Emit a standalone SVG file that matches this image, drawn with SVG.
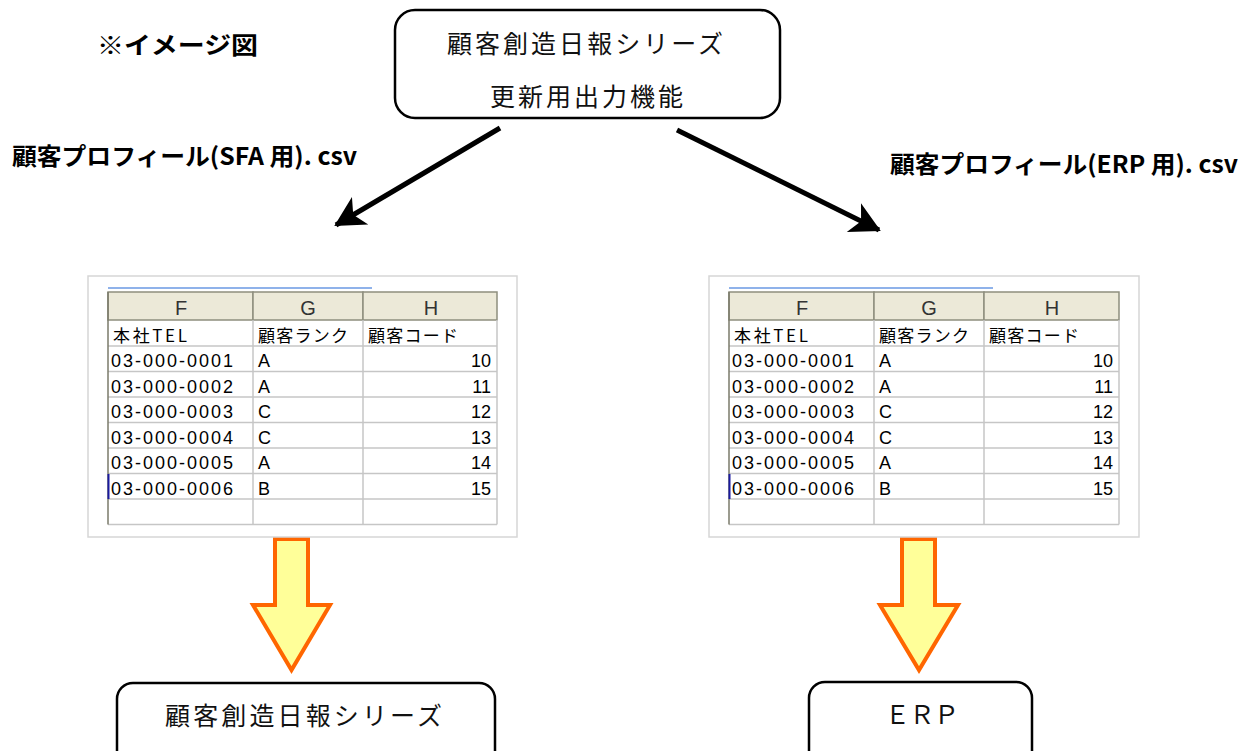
<svg xmlns="http://www.w3.org/2000/svg" width="1241" height="751" viewBox="0 0 1241 751">
<style>
.box{fill:#fff;stroke:#000;stroke-width:2.5}
.lbl{font-family:"Noto Sans CJK JP","Liberation Sans",sans-serif;font-size:25px;fill:#111}
.bold{font-family:"Noto Sans CJK JP","Liberation Sans",sans-serif;font-weight:bold;fill:#000}
.conn{stroke:#000;stroke-width:5;fill:none}
.frame{fill:#fff;stroke:#d6d6d6;stroke-width:1.5}
.hdr{fill:#ece9d8;stroke:#8e8e7e;stroke-width:1.5}
.grid{stroke:#c6c6c6;stroke-width:1.5;fill:none}
.hl{font-family:"Liberation Sans",sans-serif;font-size:20px;fill:#333;text-anchor:middle}
.cell{font-family:"Liberation Sans","Noto Sans CJK JP",sans-serif;font-size:18px;fill:#000}
.jp{font-family:"Noto Sans CJK JP","Liberation Sans",sans-serif;font-size:17px;fill:#000}
.num{text-anchor:end}
.big{fill:#ffff99;stroke:#ff6600;stroke-width:4;stroke-linejoin:miter}
</style>
<defs>
<marker id="ah" markerUnits="userSpaceOnUse" markerWidth="40" markerHeight="40" viewBox="-32 -20 40 40" refX="0" refY="0" orient="auto">
<path d="M2,0 L-28,-16 L-20,0 L-28,16 Z" fill="#000"/>
</marker>
</defs>
<rect width="1241" height="751" fill="#fff"/>

<g id="title">
<text class="bold" x="97" y="54" font-size="24" textLength="161" lengthAdjust="spacingAndGlyphs">※イメージ図</text>
</g>

<g id="top-node">
<rect class="box" x="395" y="10" width="385" height="108" rx="20"/>
<text class="lbl" x="447" y="53" textLength="276">顧客創造日報シリーズ</text>
<text class="lbl" x="490" y="106" textLength="193">更新用出力機能</text>
</g>

<g id="label-sfa">
<text class="bold" x="12" y="165" font-size="24" textLength="345" lengthAdjust="spacingAndGlyphs">顧客プロフィール(SFA 用). csv</text>
</g>
<g id="label-erp">
<text class="bold" x="890" y="173" font-size="24" textLength="348" lengthAdjust="spacingAndGlyphs">顧客プロフィール(ERP 用). csv</text>
</g>

<g id="connectors">
<line class="conn" x1="500" y1="128" x2="336" y2="225" marker-end="url(#ah)"/>
<line class="conn" x1="677" y1="130" x2="879" y2="230" marker-end="url(#ah)"/>
<polygon class="big" points="275,539 308,539 308,605 330,605 291.5,670 253,605 275,605"/>
<polygon class="big" points="902,539 935,539 935,605 958,605 919,670 880,605 902,605"/>
</g>

<g id="sheet-sfa">
<rect class="frame" x="88" y="276" width="429" height="261"/>
<rect x="108" y="287" width="264" height="2" fill="#8fb2ea"/>
<rect x="108" y="320" width="389" height="204" fill="#fff"/>
<rect class="hdr" x="108" y="292" width="145" height="28"/>
<rect class="hdr" x="253" y="292" width="110" height="28"/>
<rect class="hdr" x="363" y="292" width="134" height="28"/>
<path class="grid" d="M108,346H497M108,371.5H497M108,397H497M108,422.5H497M108,448H497M108,473.5H497M108,499H497M108,524.5H497M253,320V524.5M363,320V524.5M497,320V524.5"/>
<path d="M108,292V524.5" stroke="#7a7a6a" stroke-width="1.5"/>
<path d="M108.5,474V499" stroke="#1a1aa0" stroke-width="2"/>
<text class="hl" x="181" y="315">F</text>
<text class="hl" x="308" y="315">G</text>
<text class="hl" x="431" y="315">H</text>
<text class="jp" x="113" y="342" textLength="74">本社TEL</text>
<text class="jp" x="258" y="342" textLength="90">顧客ランク</text>
<text class="jp" x="368" y="342" textLength="90">顧客コード</text>
<text class="cell" x="111" y="367" textLength="122">03-000-0001</text>
<text class="cell" x="111" y="392.5" textLength="122">03-000-0002</text>
<text class="cell" x="111" y="418" textLength="122">03-000-0003</text>
<text class="cell" x="111" y="443.5" textLength="122">03-000-0004</text>
<text class="cell" x="111" y="469" textLength="122">03-000-0005</text>
<text class="cell" x="111" y="494.5" textLength="122">03-000-0006</text>
<text class="cell" x="258" y="367">A</text>
<text class="cell" x="258" y="392.5">A</text>
<text class="cell" x="258" y="418">C</text>
<text class="cell" x="258" y="443.5">C</text>
<text class="cell" x="258" y="469">A</text>
<text class="cell" x="258" y="494.5">B</text>
<text class="cell num" x="491" y="367">10</text>
<text class="cell num" x="491" y="392.5">11</text>
<text class="cell num" x="491" y="418">12</text>
<text class="cell num" x="491" y="443.5">13</text>
<text class="cell num" x="491" y="469">14</text>
<text class="cell num" x="491" y="494.5">15</text>
</g>

<g id="sheet-erp">
<rect class="frame" x="709" y="276" width="430" height="261"/>
<rect x="729" y="287" width="264" height="2" fill="#8fb2ea"/>
<rect x="729" y="320" width="390" height="204" fill="#fff"/>
<rect class="hdr" x="729" y="292" width="145" height="28"/>
<rect class="hdr" x="874" y="292" width="110" height="28"/>
<rect class="hdr" x="984" y="292" width="135" height="28"/>
<path class="grid" d="M729,346H1119M729,371.5H1119M729,397H1119M729,422.5H1119M729,448H1119M729,473.5H1119M729,499H1119M729,524.5H1119M874,320V524.5M984,320V524.5M1119,320V524.5"/>
<path d="M729,292V524.5" stroke="#7a7a6a" stroke-width="1.5"/>
<path d="M729.5,474V499" stroke="#1a1aa0" stroke-width="2"/>
<text class="hl" x="802" y="315">F</text>
<text class="hl" x="929" y="315">G</text>
<text class="hl" x="1052" y="315">H</text>
<text class="jp" x="734" y="342" textLength="74">本社TEL</text>
<text class="jp" x="879" y="342" textLength="90">顧客ランク</text>
<text class="jp" x="989" y="342" textLength="90">顧客コード</text>
<text class="cell" x="732" y="367" textLength="122">03-000-0001</text>
<text class="cell" x="732" y="392.5" textLength="122">03-000-0002</text>
<text class="cell" x="732" y="418" textLength="122">03-000-0003</text>
<text class="cell" x="732" y="443.5" textLength="122">03-000-0004</text>
<text class="cell" x="732" y="469" textLength="122">03-000-0005</text>
<text class="cell" x="732" y="494.5" textLength="122">03-000-0006</text>
<text class="cell" x="879" y="367">A</text>
<text class="cell" x="879" y="392.5">A</text>
<text class="cell" x="879" y="418">C</text>
<text class="cell" x="879" y="443.5">C</text>
<text class="cell" x="879" y="469">A</text>
<text class="cell" x="879" y="494.5">B</text>
<text class="cell num" x="1113" y="367">10</text>
<text class="cell num" x="1113" y="392.5">11</text>
<text class="cell num" x="1113" y="418">12</text>
<text class="cell num" x="1113" y="443.5">13</text>
<text class="cell num" x="1113" y="469">14</text>
<text class="cell num" x="1113" y="494.5">15</text>
</g>

<g id="node-nippo">
<rect class="box" x="117" y="683" width="378" height="90" rx="16"/>
<text class="lbl" x="165" y="725" textLength="277">顧客創造日報シリーズ</text>
</g>

<g id="node-erp">
<rect class="box" x="809" y="682" width="223" height="90" rx="16"/>
<text class="lbl" x="885" y="724" font-size="24" textLength="74">ＥＲＰ</text>
</g>
</svg>
